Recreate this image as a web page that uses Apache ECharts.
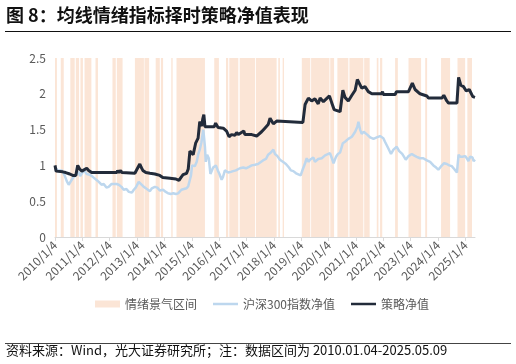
<!DOCTYPE html>
<html><head><meta charset="utf-8">
<script src="https://cdn.jsdelivr.net/npm/echarts@6/dist/echarts.min.js"></script>
<style>html,body{margin:0;padding:0;background:#fff}#c{width:516px;height:364px}</style>
</head><body><div id="c"></div>
<script>
const yearTicks = [2010,2011,2012,2013,2014,2015,2016,2017,2018,2019,2020,2021,2022,2023,2024,2025];
const tickLabels = ['2010/1/4','2011/1/4','2012/1/4','2013/1/4','2014/1/4','2015/1/4','2016/1/4','2017/1/4','2018/1/4','2019/1/4','2020/1/4','2021/1/4','2022/1/4','2023/1/4','2024/1/4','2025/1/4'];

const bandStart = [2010.00,2010.21,2010.56,2010.76,2010.93,2011.08,2011.48,2012.10,2012.26,2012.92,2013.27,2013.68,2013.87,2014.25,2014.44,2015.82,2016.25,2016.37,2016.75,2017.34,2018.16,2018.32,2019.02,2019.36,2020.06,2020.32,2020.76,2021.30,2021.76,2021.88,2022.43,2022.92,2023.53,2024.11,2024.71,2025.07];
const bandEnd   = [2010.07,2010.32,2010.72,2010.88,2011.02,2011.33,2011.57,2012.22,2012.47,2013.25,2013.44,2013.83,2013.95,2014.30,2015.48,2015.99,2016.33,2016.70,2017.31,2018.10,2018.22,2018.37,2019.33,2020.03,2020.20,2020.72,2021.27,2021.50,2021.82,2021.96,2022.53,2023.38,2023.60,2024.44,2024.99,2025.24];

const hsDates = [2010.00,2010.10,2010.25,2010.35,2010.43,2010.50,2010.57,2010.66,2010.78,2010.87,2010.92,2011.00,2011.07,2011.16,2011.27,2011.38,2011.51,2011.60,2011.70,2011.78,2011.88,2011.96,2012.06,2012.13,2012.25,2012.33,2012.43,2012.51,2012.61,2012.70,2012.81,2012.88,2012.95,2013.06,2013.12,2013.22,2013.32,2013.39,2013.47,2013.54,2013.65,2013.74,2013.83,2013.95,2014.05,2014.13,2014.23,2014.32,2014.42,2014.50,2014.62,2014.71,2014.81,2014.87,2014.93,2014.97,2015.01,2015.11,2015.18,2015.23,2015.29,2015.35,2015.42,2015.45,2015.48,2015.51,2015.56,2015.62,2015.68,2015.72,2015.78,2015.88,2015.95,2016.01,2016.09,2016.14,2016.21,2016.33,2016.43,2016.51,2016.61,2016.76,2016.88,2016.98,2017.09,2017.19,2017.31,2017.42,2017.49,2017.60,2017.71,2017.79,2017.89,2017.98,2018.04,2018.13,2018.22,2018.33,2018.44,2018.55,2018.62,2018.71,2018.81,2018.88,2018.98,2019.06,2019.14,2019.20,2019.27,2019.32,2019.44,2019.50,2019.62,2019.75,2019.87,2019.94,2020.05,2020.12,2020.18,2020.27,2020.34,2020.42,2020.52,2020.60,2020.72,2020.85,2020.97,2021.05,2021.09,2021.15,2021.21,2021.28,2021.33,2021.41,2021.52,2021.64,2021.76,2021.88,2022.00,2022.06,2022.18,2022.28,2022.37,2022.49,2022.58,2022.69,2022.82,2022.92,2023.04,2023.12,2023.22,2023.34,2023.46,2023.59,2023.71,2023.83,2023.93,2024.01,2024.14,2024.22,2024.32,2024.41,2024.50,2024.59,2024.69,2024.75,2024.81,2024.89,2024.93,2024.99,2025.05,2025.11,2025.17,2025.26,2025.30,2025.35];
const hsValues = [0.97,0.93,0.93,0.86,0.78,0.73,0.75,0.83,0.87,0.91,0.85,0.90,0.93,0.88,0.87,0.84,0.80,0.77,0.73,0.74,0.69,0.70,0.74,0.76,0.74,0.73,0.70,0.66,0.67,0.63,0.62,0.66,0.69,0.77,0.75,0.71,0.68,0.67,0.64,0.68,0.70,0.69,0.65,0.66,0.63,0.61,0.60,0.61,0.60,0.61,0.66,0.67,0.68,0.71,0.80,0.86,1.00,0.99,1.05,1.15,1.22,1.32,1.50,1.38,1.26,1.05,1.15,1.10,0.88,0.86,0.97,1.00,0.93,0.88,0.80,0.84,0.93,0.90,0.91,0.92,0.93,0.96,0.97,0.96,0.98,1.00,1.01,1.02,1.03,1.07,1.09,1.15,1.18,1.22,1.16,1.13,1.08,1.05,1.02,0.97,0.93,0.92,0.89,0.90,0.86,0.95,1.03,1.10,1.05,1.08,1.11,1.05,1.09,1.10,1.14,1.12,1.17,1.10,1.03,1.12,1.16,1.18,1.31,1.33,1.37,1.40,1.47,1.54,1.61,1.50,1.44,1.47,1.48,1.43,1.39,1.37,1.39,1.41,1.38,1.33,1.24,1.16,1.22,1.26,1.20,1.16,1.08,1.13,1.16,1.14,1.12,1.10,1.10,1.07,1.05,1.00,0.97,0.94,1.00,1.03,1.02,1.00,0.99,0.95,0.90,1.15,1.12,1.12,1.10,1.13,1.10,1.06,1.12,1.11,1.06,1.08];

const stDates = [2010.00,2010.04,2010.28,2010.39,2010.54,2010.65,2010.72,2010.76,2010.83,2010.87,2010.90,2010.98,2011.05,2011.16,2011.23,2011.34,2012.26,2012.29,2012.33,2012.40,2012.44,2012.92,2013.03,2013.10,2013.14,2013.21,2013.32,2013.47,2013.65,2013.83,2013.94,2014.20,2014.42,2014.53,2014.60,2014.68,2014.81,2014.87,2014.93,2014.99,2015.05,2015.14,2015.23,2015.29,2015.36,2015.40,2015.44,2015.48,2015.82,2015.87,2015.96,2016.15,2016.27,2016.36,2016.45,2016.58,2016.64,2016.70,2016.90,2016.94,2017.19,2017.37,2017.55,2017.67,2017.79,2017.86,2017.92,2017.98,2018.10,2018.15,2019.06,2019.14,2019.26,2019.38,2019.50,2019.62,2019.69,2019.81,2020.03,2020.11,2020.20,2020.42,2020.52,2020.60,2020.72,2020.85,2020.97,2021.05,2021.12,2021.21,2021.33,2021.45,2021.58,2021.94,2021.97,2022.00,2022.43,2022.48,2022.92,2023.06,2023.16,2023.34,2023.59,2023.65,2024.14,2024.21,2024.32,2024.38,2024.69,2024.75,2024.83,2024.93,2025.03,2025.14,2025.27,2025.35];
const stValues = [1.00,0.92,0.91,0.90,0.88,0.86,0.84,0.86,1.00,1.02,0.95,0.92,0.92,0.96,0.93,0.90,0.90,0.93,0.90,0.93,0.90,0.89,0.97,1.02,0.98,0.93,0.90,0.89,0.88,0.86,0.83,0.82,0.81,0.79,0.83,0.87,0.89,0.95,1.20,1.22,1.15,1.31,1.38,1.61,1.55,1.65,1.71,1.54,1.54,1.59,1.53,1.52,1.48,1.40,1.43,1.42,1.46,1.43,1.48,1.43,1.43,1.41,1.47,1.52,1.57,1.66,1.68,1.58,1.62,1.60,1.60,1.85,1.94,1.90,1.93,1.86,1.94,1.89,1.97,1.88,1.78,1.75,2.05,1.95,1.90,1.98,2.05,2.20,2.22,2.08,2.10,2.03,2.00,2.00,2.03,1.99,1.99,2.03,2.03,2.15,2.06,2.00,1.97,1.94,1.94,1.98,1.90,1.87,1.87,2.23,2.12,2.10,2.04,2.06,1.96,1.95];

const FONT = '"Noto Sans CJK SC", "Noto Sans", sans-serif';
const zip = (a, b) => a.map((d, i) => [d, b[i]]);
const bandData = bandStart.map((s, i) => [s, bandEnd[i]]);

const chart = echarts.init(document.getElementById('c'), null, {renderer: 'canvas'});
chart.setOption({
  animation: false,
  textStyle: {fontFamily: FONT},
  grid: {left: 55, top: 58, width: 420, height: 179, containLabel: false},
  xAxis: {
    type: 'value', min: 2010, max: 2025.35, interval: 1,
    splitLine: {show: false},
    axisLine: {lineStyle: {color: '#D9D9D9', width: 1}},
    axisTick: {show: true, length: 4, lineStyle: {color: '#D9D9D9'}, customValues: yearTicks},
    axisLabel: {
      customValues: yearTicks, rotate: 45, margin: 6, color: '#595959', fontSize: 12, fontFamily: FONT,
      formatter: v => tickLabels[yearTicks.indexOf(Math.round(v))] || ''
    }
  },
  yAxis: {
    type: 'value', min: 0, max: 2.5, interval: 0.5,
    splitLine: {show: false},
    axisLine: {show: false}, axisTick: {show: false},
    axisLabel: {color: '#595959', fontSize: 12, margin: 9, fontFamily: FONT, formatter: v => String(v)}
  },
  legend: [{
    left: 95, top: 298, padding: 0, itemWidth: 25, itemHeight: 7, itemGap: 19,
    textStyle: {color: '#595959', fontSize: 12, fontFamily: FONT},
    data: [{name: '情绪景气区间', icon: 'rect'}]
  }, {
    left: 213, top: 298, padding: 0, itemWidth: 25, itemHeight: 2.5, itemGap: 16,
    textStyle: {color: '#595959', fontSize: 12, fontFamily: FONT},
    data: [{name: '沪深300指数净值', icon: 'rect'}, {name: '策略净值', icon: 'rect'}]
  }],
  series: [{
    name: '情绪景气区间', type: 'custom', z: 1,
    itemStyle: {color: '#FBE5D6'},
    encode: {x: [0, 1]},
    data: bandData,
    renderItem: (params, api) => {
      const p0 = api.coord([api.value(0), 0]);
      const p1 = api.coord([api.value(1), 2.5]);
      return {type: 'rect', shape: {x: p0[0], y: p1[1], width: Math.max(p1[0] - p0[0], 1), height: p0[1] - p1[1]},
        style: {fill: '#FBE5D6'}};
    }
  }, {
    name: '沪深300指数净值', type: 'line', z: 3, symbol: 'none', showSymbol: false,
    lineStyle: {color: '#BDD7EE', width: 2.5}, itemStyle: {color: '#BDD7EE'},
    data: zip(hsDates, hsValues)
  }, {
    name: '策略净值', type: 'line', z: 4, symbol: 'none', showSymbol: false,
    lineStyle: {color: '#222B3A', width: 3}, itemStyle: {color: '#222B3A'},
    data: zip(stDates, stValues)
  }],
  graphic: [
    {type: 'text', left: 6, top: 6, style: {text: '图 8：均线情绪指标择时策略净值表现', fill: '#111', font: 'bold 18px ' + FONT}},
    {type: 'line', shape: {x1: 5, y1: 31.5, x2: 511, y2: 31.5}, style: {stroke: '#111', lineWidth: 1.2}},
    {type: 'line', shape: {x1: 5, y1: 343.5, x2: 511, y2: 343.5}, style: {stroke: '#444', lineWidth: 1}},
    {type: 'text', left: 6, top: 344, style: {text: '资料来源：Wind，光大证券研究所；注：数据区间为 2010.01.04-2025.05.09', fill: '#111', font: '13px ' + FONT}}
  ]
});
</script></body></html>
